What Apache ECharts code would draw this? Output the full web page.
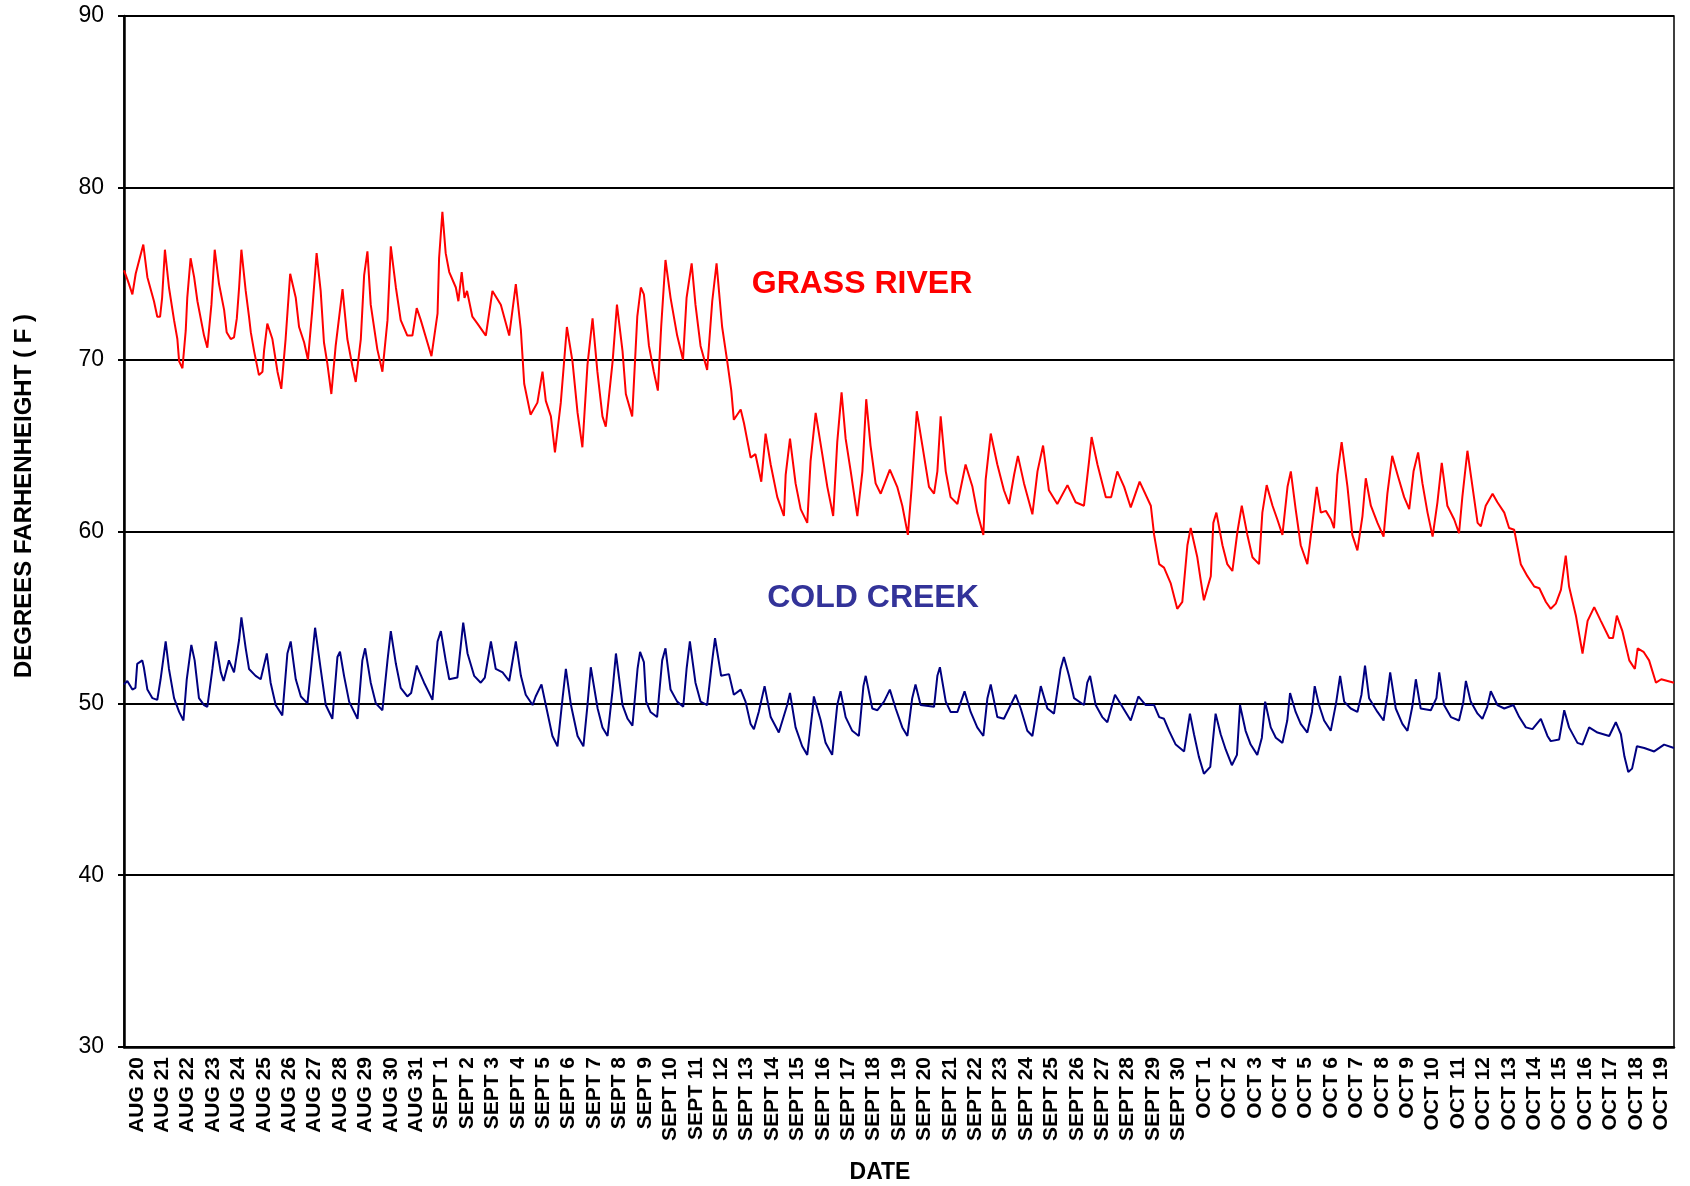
<!DOCTYPE html>
<html>
<head>
<meta charset="utf-8">
<title>Grass River / Cold Creek</title>
<script src="https://cdn.jsdelivr.net/npm/echarts@6/dist/echarts.min.js"></script>
<style>
  html, body { margin: 0; padding: 0; background: #fff; }
  #main { width: 1690px; height: 1186px; }
</style>
</head>
<body>
<div id="main"></div>
<script>
// day labels on the x axis (one per day, AUG 20 .. OCT 19)
const dayLabels = [
  'AUG 20', 'AUG 21', 'AUG 22', 'AUG 23', 'AUG 24', 'AUG 25', 'AUG 26', 'AUG 27', 'AUG 28', 'AUG 29', 'AUG 30', 'AUG 31',
  'SEPT 1', 'SEPT 2', 'SEPT 3', 'SEPT 4', 'SEPT 5', 'SEPT 6', 'SEPT 7', 'SEPT 8', 'SEPT 9', 'SEPT 10',
  'SEPT 11', 'SEPT 12', 'SEPT 13', 'SEPT 14', 'SEPT 15', 'SEPT 16', 'SEPT 17', 'SEPT 18', 'SEPT 19', 'SEPT 20',
  'SEPT 21', 'SEPT 22', 'SEPT 23', 'SEPT 24', 'SEPT 25', 'SEPT 26', 'SEPT 27', 'SEPT 28', 'SEPT 29', 'SEPT 30',
  'OCT 1', 'OCT 2', 'OCT 3', 'OCT 4', 'OCT 5', 'OCT 6', 'OCT 7', 'OCT 8', 'OCT 9', 'OCT 10',
  'OCT 11', 'OCT 12', 'OCT 13', 'OCT 14', 'OCT 15', 'OCT 16', 'OCT 17', 'OCT 18', 'OCT 19'
];

// y axis range / ticks
const tempMin = 30;
const tempMax = 90;
const tempStep = 10;

// readings as [day since AUG 20 00:00, degrees F]
const grassRiver = [
  [0, 75.2], [0.15, 74.6], [0.33, 73.8], [0.46, 75.0], [0.6, 75.8], [0.76, 76.7], [0.92, 74.8], [1.18, 73.4],
  [1.31, 72.5], [1.42, 72.5], [1.5, 73.6], [1.61, 76.4], [1.77, 74.2], [1.97, 72.3], [2.1, 71.2], [2.17, 69.9],
  [2.3, 69.5], [2.43, 71.7], [2.49, 73.6], [2.62, 75.9], [2.76, 74.8], [2.89, 73.4], [3.15, 71.4], [3.28, 70.7],
  [3.44, 73.2], [3.57, 76.4], [3.74, 74.4], [3.94, 72.9], [4.04, 71.6], [4.2, 71.2], [4.33, 71.3], [4.44, 72.4],
  [4.53, 74.2], [4.62, 76.4], [4.79, 74.0], [4.92, 72.5], [4.99, 71.6], [5.12, 70.5], [5.31, 69.1], [5.45, 69.3],
  [5.51, 70.5], [5.64, 72.1], [5.84, 71.2], [6.04, 69.3], [6.19, 68.3], [6.36, 71.2], [6.54, 75.0], [6.76, 73.6],
  [6.89, 71.9], [7.09, 71.0], [7.24, 70.0], [7.41, 72.9], [7.58, 76.2], [7.74, 74.0], [7.87, 71.0], [8.0, 69.8],
  [8.16, 68.0], [8.33, 70.8], [8.6, 74.1], [8.79, 71.2], [8.99, 69.6], [9.12, 68.7], [9.32, 71.2], [9.45, 74.9],
  [9.58, 76.3], [9.71, 73.2], [9.97, 70.6], [10.17, 69.3], [10.37, 72.3], [10.5, 76.6], [10.7, 74.2], [10.89, 72.3],
  [11.15, 71.4], [11.35, 71.4], [11.52, 73.0], [11.68, 72.3], [11.94, 71.0], [12.1, 70.2], [12.34, 72.7], [12.4, 75.9],
  [12.53, 78.6], [12.66, 76.2], [12.8, 75.1], [13.06, 74.2], [13.16, 73.4], [13.29, 75.1], [13.4, 73.6], [13.5, 74.0],
  [13.71, 72.5], [13.91, 72.1], [14.24, 71.4], [14.5, 74.0], [14.83, 73.2], [15.16, 71.4], [15.42, 74.4], [15.62, 71.7],
  [15.75, 68.6], [16.0, 66.8], [16.27, 67.5], [16.47, 69.3], [16.6, 67.6], [16.8, 66.7], [16.96, 64.6], [17.19, 67.5],
  [17.43, 71.9], [17.65, 69.9], [17.85, 66.9], [18.04, 64.9], [18.24, 69.7], [18.44, 72.4], [18.63, 69.3], [18.83, 66.7],
  [18.96, 66.1], [19.23, 69.9], [19.4, 73.2], [19.62, 70.5], [19.75, 68.0], [20.0, 66.7], [20.2, 72.5], [20.34, 74.2],
  [20.46, 73.8], [20.66, 70.8], [20.85, 69.3], [21.01, 68.2], [21.14, 71.9], [21.31, 75.8], [21.51, 73.6], [21.77, 71.4],
  [22.0, 70.0], [22.14, 73.6], [22.34, 75.6], [22.49, 73.2], [22.69, 70.8], [22.95, 69.4], [23.15, 73.4], [23.32, 75.6],
  [23.54, 71.9], [23.74, 69.9], [23.9, 68.2], [24.0, 66.5], [24.27, 67.1], [24.4, 66.3], [24.66, 64.3], [24.85, 64.5],
  [25.08, 62.9], [25.25, 65.7], [25.45, 63.9], [25.71, 62.0], [25.97, 60.9], [26.04, 63.3], [26.21, 65.4], [26.43, 62.8],
  [26.63, 61.3], [26.89, 60.5], [27.02, 64.1], [27.22, 66.9], [27.48, 64.5], [27.68, 62.6], [27.91, 60.9], [28.07, 65.2],
  [28.24, 68.1], [28.4, 65.4], [28.6, 63.5], [28.86, 60.9], [29.06, 63.5], [29.21, 67.7], [29.38, 65.0], [29.58, 62.8],
  [29.78, 62.2], [30.14, 63.6], [30.43, 62.6], [30.63, 61.5], [30.85, 59.8], [31.0, 62.6], [31.2, 67.0], [31.42, 65.0],
  [31.68, 62.6], [31.88, 62.2], [32.01, 63.5], [32.14, 66.7], [32.34, 63.5], [32.53, 62.0], [32.8, 61.6], [33.12, 63.9],
  [33.39, 62.6], [33.58, 61.1], [33.82, 59.8], [33.91, 63.0], [34.11, 65.7], [34.37, 63.9], [34.63, 62.4], [34.83, 61.6],
  [35.03, 63.3], [35.18, 64.4], [35.42, 62.8], [35.75, 61.0], [35.95, 63.5], [36.17, 65.0], [36.4, 62.4], [36.73, 61.6],
  [37.13, 62.7], [37.45, 61.7], [37.78, 61.5], [37.98, 64.1], [38.08, 65.5], [38.31, 63.9], [38.64, 62.0], [38.85, 62.0],
  [39.09, 63.5], [39.36, 62.6], [39.62, 61.4], [39.97, 62.9], [40.41, 61.5], [40.54, 59.8], [40.74, 58.1], [40.93, 57.9],
  [41.19, 57.0], [41.45, 55.5], [41.65, 55.9], [41.85, 59.2], [41.98, 60.2], [42.24, 58.5], [42.37, 57.2], [42.5, 56.0],
  [42.77, 57.4], [42.87, 60.5], [42.99, 61.1], [43.23, 59.2], [43.42, 58.1], [43.62, 57.7], [43.82, 60.0], [43.99, 61.5],
  [44.21, 59.8], [44.41, 58.5], [44.67, 58.1], [44.8, 61.1], [44.97, 62.7], [45.2, 61.5], [45.39, 60.7], [45.59, 59.8],
  [45.79, 62.6], [45.92, 63.5], [46.11, 61.3], [46.31, 59.2], [46.57, 58.1], [46.77, 60.5], [46.94, 62.6], [47.1, 61.1],
  [47.3, 61.2], [47.5, 60.7], [47.62, 60.2], [47.75, 63.3], [47.92, 65.2], [48.15, 62.6], [48.34, 59.8], [48.54, 58.9],
  [48.74, 60.9], [48.87, 63.1], [49.07, 61.5], [49.33, 60.5], [49.57, 59.7], [49.72, 62.2], [49.91, 64.4], [50.12, 63.3],
  [50.38, 62.0], [50.58, 61.3], [50.75, 63.5], [50.93, 64.6], [51.1, 62.8], [51.3, 61.1], [51.5, 59.7], [51.69, 61.7],
  [51.86, 64.0], [52.08, 61.5], [52.35, 60.7], [52.54, 59.9], [52.67, 62.0], [52.87, 64.7], [53.07, 62.6], [53.27, 60.5],
  [53.4, 60.3], [53.59, 61.5], [53.86, 62.2], [54.05, 61.7], [54.32, 61.1], [54.51, 60.2], [54.71, 60.1], [54.97, 58.1],
  [55.23, 57.4], [55.5, 56.8], [55.7, 56.7], [55.96, 55.9], [56.15, 55.5], [56.35, 55.8], [56.55, 56.6], [56.74, 58.6],
  [56.87, 56.8], [57.14, 55.1], [57.4, 52.9], [57.6, 54.8], [57.86, 55.6], [58.12, 54.8], [58.45, 53.8], [58.6, 53.8],
  [58.75, 55.1], [58.97, 54.2], [59.24, 52.5], [59.46, 52.0], [59.57, 53.2], [59.8, 53.0], [60.02, 52.5], [60.29, 51.2],
  [60.5, 51.4], [61.0, 51.2]
];

const coldCreek = [
  [0, 51.1], [0.13, 51.3], [0.33, 50.8], [0.45, 50.9], [0.52, 52.3], [0.72, 52.5], [0.78, 52.1], [0.92, 50.8],
  [1.12, 50.3], [1.31, 50.2], [1.44, 51.4], [1.64, 53.6], [1.77, 52.0], [1.97, 50.3], [2.17, 49.5], [2.34, 49.0],
  [2.47, 51.4], [2.65, 53.4], [2.78, 52.5], [2.95, 50.3], [3.15, 49.9], [3.28, 49.8], [3.48, 52.0], [3.61, 53.6],
  [3.81, 51.8], [3.92, 51.3], [4.13, 52.5], [4.33, 51.8], [4.53, 53.7], [4.62, 55.0], [4.79, 53.2], [4.92, 52.0],
  [5.18, 51.6], [5.38, 51.4], [5.62, 52.9], [5.77, 51.2], [5.97, 49.9], [6.23, 49.3], [6.43, 52.9], [6.56, 53.6],
  [6.76, 51.4], [6.96, 50.4], [7.22, 50.0], [7.38, 52.3], [7.52, 54.4], [7.74, 52.0], [7.94, 49.9], [8.2, 49.1],
  [8.4, 52.7], [8.5, 53.0], [8.66, 51.6], [8.86, 50.1], [9.19, 49.1], [9.38, 52.5], [9.49, 53.2], [9.71, 51.2],
  [9.91, 50.0], [10.17, 49.6], [10.37, 52.5], [10.5, 54.2], [10.7, 52.3], [10.89, 50.9], [11.15, 50.4], [11.3, 50.6],
  [11.52, 52.2], [11.81, 51.2], [12.14, 50.2], [12.34, 53.6], [12.47, 54.2], [12.66, 52.5], [12.8, 51.4], [13.12, 51.5],
  [13.35, 54.7], [13.52, 52.9], [13.78, 51.6], [14.04, 51.2], [14.2, 51.5], [14.44, 53.6], [14.63, 52.0], [14.9, 51.8],
  [15.16, 51.3], [15.42, 53.6], [15.62, 51.6], [15.81, 50.5], [16.08, 49.9], [16.2, 50.4], [16.43, 51.1], [16.6, 49.9],
  [16.86, 48.1], [17.06, 47.5], [17.26, 50.3], [17.39, 52.0], [17.59, 49.9], [17.85, 48.1], [18.08, 47.5], [18.24, 49.9],
  [18.37, 52.1], [18.64, 49.7], [18.83, 48.6], [19.03, 48.1], [19.23, 50.8], [19.36, 52.9], [19.62, 49.9], [19.82, 49.1],
  [20.01, 48.7], [20.21, 52.0], [20.31, 53.0], [20.46, 52.4], [20.55, 50.1], [20.72, 49.5], [20.98, 49.2], [21.18, 52.5],
  [21.31, 53.2], [21.51, 50.8], [21.77, 50.1], [22.01, 49.8], [22.14, 52.0], [22.27, 53.6], [22.49, 51.2], [22.69, 50.1],
  [22.95, 49.9], [23.15, 52.5], [23.26, 53.8], [23.5, 51.6], [23.81, 51.7], [24.0, 50.5], [24.27, 50.8], [24.46, 50.1],
  [24.66, 48.8], [24.79, 48.5], [24.98, 49.5], [25.21, 51.0], [25.45, 49.2], [25.77, 48.3], [26.1, 49.9], [26.21, 50.6],
  [26.43, 48.6], [26.69, 47.5], [26.89, 47.0], [27.09, 49.5], [27.15, 50.4], [27.42, 49.0], [27.61, 47.7], [27.87, 47.0],
  [28.07, 49.9], [28.2, 50.7], [28.4, 49.2], [28.66, 48.4], [28.92, 48.1], [29.1, 51.0], [29.19, 51.6], [29.45, 49.7],
  [29.65, 49.6], [29.91, 50.1], [30.14, 50.8], [30.37, 49.7], [30.63, 48.6], [30.83, 48.1], [31.02, 50.3], [31.15, 51.1],
  [31.35, 49.9], [31.88, 49.8], [32.01, 51.6], [32.11, 52.1], [32.34, 50.1], [32.53, 49.5], [32.8, 49.5], [33.08, 50.7],
  [33.32, 49.5], [33.58, 48.6], [33.82, 48.1], [33.98, 50.3], [34.11, 51.1], [34.37, 49.2], [34.63, 49.1], [35.09, 50.5],
  [35.29, 49.7], [35.55, 48.4], [35.75, 48.1], [35.95, 49.9], [36.08, 51.0], [36.34, 49.7], [36.6, 49.4], [36.86, 52.0],
  [36.99, 52.7], [37.19, 51.6], [37.39, 50.3], [37.78, 49.9], [37.91, 51.2], [38.02, 51.6], [38.24, 49.9], [38.5, 49.2],
  [38.7, 48.9], [39.0, 50.5], [39.29, 49.8], [39.62, 49.0], [39.92, 50.4], [40.21, 49.9], [40.54, 49.9], [40.74, 49.2],
  [40.93, 49.1], [41.13, 48.4], [41.39, 47.6], [41.72, 47.2], [41.95, 49.4], [42.11, 48.2], [42.3, 46.9], [42.5, 45.9],
  [42.75, 46.3], [42.96, 49.4], [43.16, 48.2], [43.36, 47.3], [43.6, 46.4], [43.8, 47.0], [43.92, 49.9], [44.14, 48.4],
  [44.34, 47.6], [44.6, 47.0], [44.78, 48.0], [44.91, 50.1], [45.13, 48.6], [45.33, 48.0], [45.59, 47.7], [45.78, 49.0],
  [45.89, 50.6], [46.11, 49.5], [46.31, 48.8], [46.57, 48.3], [46.75, 49.5], [46.86, 51.0], [47.03, 49.9], [47.23, 49.0],
  [47.49, 48.4], [47.7, 50.0], [47.86, 51.6], [48.02, 50.1], [48.28, 49.7], [48.54, 49.5], [48.7, 50.5], [48.84, 52.2],
  [49.0, 50.3], [49.33, 49.5], [49.57, 49.0], [49.72, 50.5], [49.83, 51.8], [50.05, 49.7], [50.31, 48.8], [50.51, 48.4],
  [50.7, 49.8], [50.84, 51.4], [51.03, 49.7], [51.43, 49.6], [51.65, 50.3], [51.76, 51.8], [51.95, 49.9], [52.22, 49.2],
  [52.54, 49.0], [52.7, 50.0], [52.81, 51.3], [53.0, 50.1], [53.27, 49.4], [53.46, 49.1], [53.65, 49.8], [53.79, 50.7],
  [54.05, 49.9], [54.32, 49.7], [54.68, 49.9], [54.91, 49.2], [55.17, 48.6], [55.43, 48.5], [55.76, 49.1], [56.02, 48.1],
  [56.15, 47.8], [56.48, 47.9], [56.68, 49.6], [56.87, 48.6], [57.2, 47.7], [57.4, 47.6], [57.66, 48.6], [57.99, 48.3],
  [58.45, 48.1], [58.71, 48.9], [58.91, 48.2], [59.05, 46.9], [59.2, 46.0], [59.35, 46.2], [59.54, 47.5], [59.83, 47.4],
  [60.22, 47.2], [60.61, 47.6], [61.0, 47.4]
];

const FONT = "'Liberation Sans', Arial, sans-serif";

let myChart = echarts.init(document.getElementById('main'), null, { renderer: 'canvas' });

let option = {
  animation: false,
  backgroundColor: '#fff',
  grid: {
    left: 124,
    right: 16,
    top: 16,
    bottom: 139,
    containLabel: false,
    outerBoundsMode: 'none',
    show: true,
    borderColor: '#000',
    borderWidth: 1.5,
    backgroundColor: 'transparent'
  },
  xAxis: [
    {
      // day labels, one per category
      type: 'category',
      data: dayLabels,
      boundaryGap: true,
      axisLine: { show: true, lineStyle: { color: '#000', width: 2.5 } },
      axisTick: { show: false },
      axisLabel: {
        interval: 0,
        rotate: 90,
        margin: 10,
        color: '#000',
        fontFamily: FONT,
        fontWeight: 'bold',
        fontSize: 21
      },
      splitLine: { show: false }
    },
    {
      // hidden time axis the readings are plotted on
      type: 'value',
      min: 0,
      max: dayLabels.length,
      show: false
    }
  ],
  yAxis: {
    type: 'value',
    min: tempMin,
    max: tempMax,
    interval: tempStep,
    axisLine: { show: true, lineStyle: { color: '#000', width: 2.5 } },
    axisTick: { show: true, inside: false, length: 6, lineStyle: { color: '#000', width: 2 } },
    axisLabel: { margin: 20, color: '#000', fontFamily: FONT, fontSize: 23 },
    splitLine: { show: true, lineStyle: { color: '#000', width: 2 } }
  },
  series: [
    {
      name: 'GRASS RIVER',
      type: 'line',
      xAxisIndex: 1,
      data: grassRiver,
      showSymbol: false,
      symbol: 'none',
      lineStyle: { color: '#ff0000', width: 2 },
      itemStyle: { color: '#ff0000' },
      z: 3
    },
    {
      name: 'COLD CREEK',
      type: 'line',
      xAxisIndex: 1,
      data: coldCreek,
      showSymbol: false,
      symbol: 'none',
      lineStyle: { color: '#000080', width: 2 },
      itemStyle: { color: '#000080' },
      z: 3
    }
  ],
  // series names inside the plot, plus the two axis titles
  graphic: [
    {
      type: 'text',
      x: 862,
      y: 284,
      style: {
        text: 'GRASS RIVER',
        fill: '#ff0000',
        font: 'bold 32px ' + FONT,
        align: 'center', verticalAlign: 'middle',
        textAlign: 'center', textVerticalAlign: 'middle'
      }
    },
    {
      type: 'text',
      x: 873,
      y: 598,
      style: {
        text: 'COLD CREEK',
        fill: '#333399',
        font: 'bold 32px ' + FONT,
        align: 'center', verticalAlign: 'middle',
        textAlign: 'center', textVerticalAlign: 'middle'
      }
    },
    {
      type: 'text',
      x: 24,
      y: 496,
      rotation: Math.PI / 2,
      style: {
        text: 'DEGREES FARHENHEIGHT ( F )',
        fill: '#000',
        font: 'bold 24px ' + FONT,
        align: 'center', verticalAlign: 'middle',
        textAlign: 'center', textVerticalAlign: 'middle'
      }
    },
    {
      type: 'text',
      x: 880,
      y: 1173,
      style: {
        text: 'DATE',
        fill: '#000',
        font: 'bold 23px ' + FONT,
        align: 'center', verticalAlign: 'middle',
        textAlign: 'center', textVerticalAlign: 'middle'
      }
    }
  ]
};

myChart.setOption(option);
</script>
</body>
</html>
